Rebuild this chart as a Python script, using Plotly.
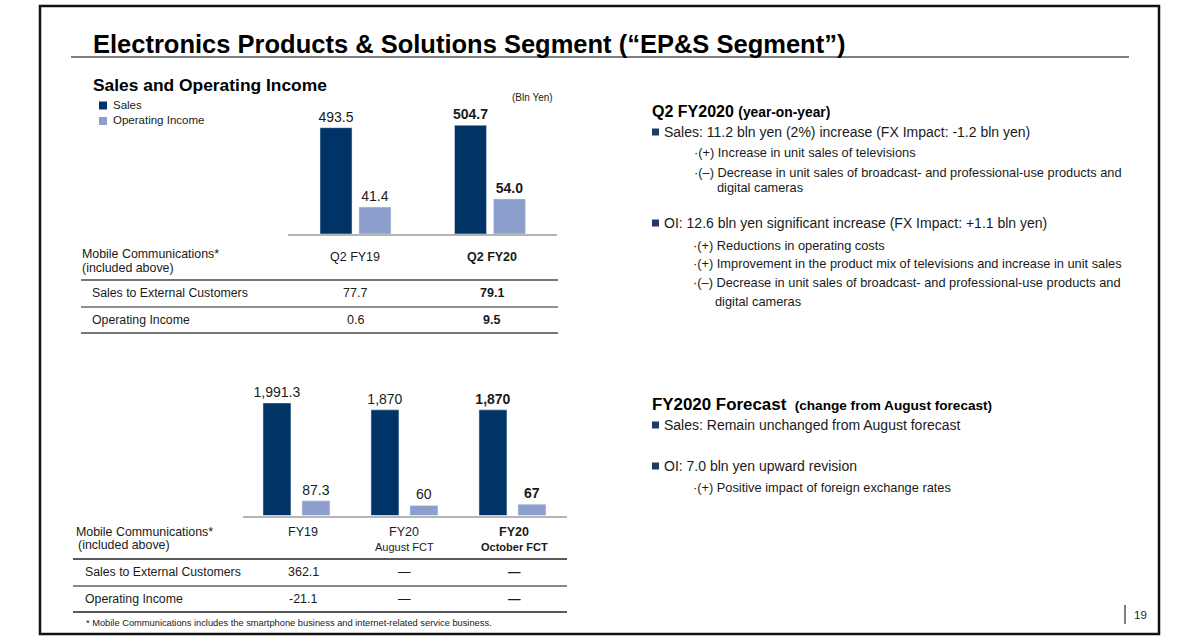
import plotly.graph_objects as go

# ---------------- data ----------------
periods_q = ["Q2 FY19", "Q2 FY20"]
sales_q = [493.5, 504.7]
oi_q = [41.4, 54.0]

periods_fy = ["FY19", "FY20", "FY20"]
periods_fy_sub = ["", "August FCT", "October FCT"]
sales_fy = [1991.3, 1870, 1870]
oi_fy = [87.3, 60, 67]

mobile_rows = ["Sales to External Customers", "Operating Income"]
mobile_q = [["77.7", "79.1"], ["0.6", "9.5"]]
mobile_fy = [["362.1", "—", "—"], ["-21.1", "—", "—"]]

legend_names = ["Sales", "Operating Income"]

NAVY = "#003466"
LIGHT = "#8C9FCC"
FONT = "Arial, Liberation Sans, sans-serif"
W, H = 1200, 640


def X(px):
    return px / W


def Y(py):
    return 1 - py / H


cats_q = periods_q
cats_fy = [f"{a} {b}".strip() for a, b in zip(periods_fy, periods_fy_sub)]

lbl_font = dict(size=14, color="#1a1a1a", family=FONT)

fig = go.Figure()

# --- top chart (quarter) ---
fig.add_trace(go.Bar(
    x=cats_q, y=sales_q, name=legend_names[0], marker_color=NAVY,
    xaxis="x", yaxis="y", width=0.238, offset=-0.262,
    texttemplate=["%{y:.1f}", "<b>%{y:.1f}</b>"], textposition="outside",
    constraintext="none", cliponaxis=False, showlegend=False, textfont=lbl_font))
fig.add_trace(go.Bar(
    x=cats_q, y=oi_q, name=legend_names[1], marker_color=LIGHT,
    xaxis="x", yaxis="y2", width=0.238, offset=0.0275,
    texttemplate=["%{y:.1f}", "<b>%{y:.1f}</b>"], textposition="outside",
    constraintext="none", cliponaxis=False, showlegend=False, textfont=lbl_font))

# --- bottom chart (fiscal year) ---
fig.add_trace(go.Bar(
    x=cats_fy, y=sales_fy, name=legend_names[0], marker_color=NAVY,
    xaxis="x3", yaxis="y3", width=0.259, offset=-0.315,
    texttemplate=["%{y:,.1f}", "%{y:,.0f}", "<b>%{y:,.0f}</b>"], textposition="outside",
    constraintext="none", cliponaxis=False, showlegend=False, textfont=lbl_font))
fig.add_trace(go.Bar(
    x=cats_fy, y=oi_fy, name=legend_names[1], marker_color=LIGHT,
    xaxis="x3", yaxis="y4", width=0.259, offset=0.046,
    texttemplate=["%{y:.1f}", "%{y:.0f}", "<b>%{y:.0f}</b>"], textposition="outside",
    constraintext="none", cliponaxis=False, showlegend=False, textfont=lbl_font))

hidden = dict(showgrid=False, zeroline=False, showticklabels=False, ticks="")
top_base, top_top = 234, 100
bot_base, bot_top = 515.5, 380
sales_q_scale = 0.2155   # px per unit
oi_q_scale = 0.650
sales_fy_scale = 0.0565
oi_fy_scale = 0.168

fig.update_layout(
    width=W, height=H,
    margin=dict(l=0, r=0, t=0, b=0),
    paper_bgcolor="white", plot_bgcolor="rgba(0,0,0,0)",
    font=dict(family=FONT, color="#1a1a1a"),
    showlegend=False, barmode="overlay",
    xaxis=dict(domain=[X(288), X(557)], anchor="y", type="category",
               range=[-0.5, 1.5], showline=True, linecolor="#b5b5b5", linewidth=2,
               **hidden),
    yaxis=dict(domain=[Y(top_base), Y(top_top)], anchor="x",
               range=[0, (top_base - top_top) / sales_q_scale], **hidden),
    yaxis2=dict(domain=[Y(top_base), Y(top_top)], anchor="x", overlaying="y",
                range=[0, (top_base - top_top) / oi_q_scale], **hidden),
    xaxis3=dict(domain=[X(243), X(567)], anchor="y3", type="category",
                range=[-0.5, 2.5], showline=True, linecolor="#b5b5b5", linewidth=2,
                **hidden),
    yaxis3=dict(domain=[Y(bot_base), Y(bot_top)], anchor="x3",
                range=[0, (bot_base - bot_top) / sales_fy_scale], **hidden),
    yaxis4=dict(domain=[Y(bot_base), Y(bot_top)], anchor="x3", overlaying="y3",
                range=[0, (bot_base - bot_top) / oi_fy_scale], **hidden),
)

shapes = []
ann = []


def text(x, y, s, size=12, anchor="left", bold=False, color="#1a1a1a"):
    if bold:
        s = f"<b>{s}</b>"
    ann.append(dict(x=X(x), y=Y(y), xref="paper", yref="paper", text=s,
                    showarrow=False, xanchor=anchor, yanchor="middle",
                    font=dict(size=size, color=color, family=FONT)))


def hline(x0, x1, y, color="#333", width=1.5):
    shapes.append(dict(type="line", xref="paper", yref="paper",
                       x0=X(x0), x1=X(x1), y0=Y(y), y1=Y(y),
                       line=dict(color=color, width=width)))


def square(x0, y0, size, color):
    shapes.append(dict(type="rect", xref="paper", yref="paper",
                       x0=X(x0), x1=X(x0 + size), y0=Y(y0), y1=Y(y0 + size),
                       fillcolor=color, line=dict(width=0)))


# frame
shapes.append(dict(type="rect", xref="paper", yref="paper",
                   x0=X(40), x1=X(1159), y0=Y(634), y1=Y(6),
                   line=dict(color="#111", width=2.5)))
# title
text(91, 44, "Electronics Products &amp; Solutions Segment (“EP&amp;S Segment”)", size=25.5, bold=True, color="#000")
hline(71, 1129, 57, color="#555", width=1.5)

# section title + manual legend
text(91, 85, "Sales and Operating Income", size=17.4, bold=True, color="#000")
square(99, 101.5, 8, NAVY)
square(99, 117, 8, LIGHT)
text(111, 105, legend_names[0], size=11.5)
text(111, 120.5, legend_names[1], size=11.5)
text(532, 97, "(Bln Yen)", size=10, anchor="center")

# top table
text(80, 254, "Mobile Communications*", size=12.4)
text(80, 268, "(included above)", size=12.4)
hdr_q_x = [355, 492]
for i, p in enumerate(periods_q):
    text(hdr_q_x[i], 257, p, size=12.5, anchor="center", bold=(i == 1))
hline(81, 558, 280, color="#777", width=2)
row_y_q = [293, 320]
for r, name in enumerate(mobile_rows):
    text(90, row_y_q[r], name, size=12.3)
    for i, v in enumerate(mobile_q[r]):
        text(hdr_q_x[i], row_y_q[r], v, size=12.5, anchor="center", bold=(i == 1))
hline(81, 558, 307, color="#222", width=1.2)
hline(81, 558, 333, color="#777", width=2)

# bottom table
text(74, 532, "Mobile Communications*", size=12.4)
text(76, 545, "(included above)", size=12.4)
hdr_fy_x = [303, 404, 514]
for i, p in enumerate(periods_fy):
    text(hdr_fy_x[i], 532, p, size=12.5, anchor="center", bold=(i == 2))
    if periods_fy_sub[i]:
        text(hdr_fy_x[i], 547, periods_fy_sub[i], size=11, anchor="center", bold=(i == 2))
hline(73, 567, 559, color="#222", width=1.5)
row_y_fy = [572, 599]
for r, name in enumerate(mobile_rows):
    text(83, row_y_fy[r], name, size=12.3)
    for i, v in enumerate(mobile_fy[r]):
        text(hdr_fy_x[i], row_y_fy[r], v, size=12.5, anchor="center", bold=(i == 2))
hline(73, 567, 586, color="#888", width=2)
hline(73, 567, 612, color="#222", width=1.5)
text(84, 623, "* Mobile Communications includes the smartphone business and internet-related service business.", size=9.3)

# right-hand commentary
text(650, 111, "Q2 FY2020 <span style='font-size:13.8px'>(year-on-year)</span>", size=16, bold=True, color="#000")
bullets = [
    (132, "Sales: 11.2 bln yen (2%) increase (FX Impact: -1.2 bln yen)"),
    (223, "OI: 12.6 bln yen significant increase (FX Impact: +1.1 bln yen)"),
    (425, "Sales: Remain unchanged from August forecast"),
    (466, "OI: 7.0 bln yen upward revision"),
]
for yy, s in bullets:
    square(652, yy - 3.5, 7, "#1F3A68")
    text(662, yy, s, size=14)
subs = [
    (692, 153, "·(+) Increase in unit sales of televisions"),
    (692, 172, "·(–) Decrease in unit sales of broadcast- and professional-use products and"),
    (715, 187, "digital cameras"),
    (691, 245, "·(+) Reductions in operating costs"),
    (691, 263, "·(+) Improvement in the product mix of televisions and increase in unit sales"),
    (691, 282, "·(–) Decrease in unit sales of broadcast- and professional-use products and"),
    (713, 301, "digital cameras"),
    (691, 487, "·(+) Positive impact of foreign exchange rates"),
]
for xx, yy, s in subs:
    text(xx, yy, s, size=12.8)
text(650, 404, "FY2020 Forecast <span style='font-size:13.6px'> (change from August forecast)</span>", size=16.9, bold=True, color="#000")

# page number
shapes.append(dict(type="line", xref="paper", yref="paper", x0=X(1125), x1=X(1125),
                   y0=Y(605), y1=Y(624), line=dict(color="#555", width=1.5)))
text(1140, 615, "19", size=11.5, anchor="center")

fig.update_layout(shapes=shapes, annotations=ann)
fig.write_html("out.html", config={"displayModeBar": False},
               post_script="document.body.style.margin='0';document.body.style.overflow='hidden';")
